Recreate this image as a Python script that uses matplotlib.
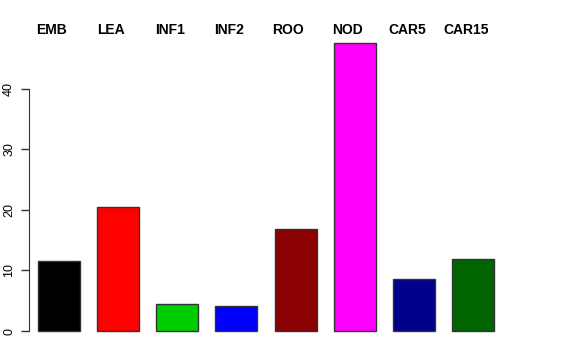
import matplotlib
matplotlib.use("Agg")
import matplotlib.pyplot as plt

categories = ["EMB", "LEA", "INF1", "INF2", "ROO", "NOD", "CAR5", "CAR15"]
values = [11.6, 20.5, 4.5, 4.1, 16.9, 47.6, 8.6, 11.9]
colors = ["#000000", "#FF0000", "#00CD00", "#0000FF", "#8B0000", "#FF00FF", "#00008B", "#006400"]
yticks = [0, 10, 20, 30, 40]

plt.rcParams['font.family'] = ['Liberation Sans', 'DejaVu Sans']

W, H = 576, 360
fig = plt.figure(figsize=(W/100, H/100), dpi=100)
left, right, top, bottom = 29, 503, 31.5, 342.5
ax = fig.add_axes([left/W, 1-bottom/H, (right-left)/W, (bottom-top)/H])

x = list(range(len(categories)))
ax.bar(x, values, width=0.71, color=colors, edgecolor="#333333", linewidth=1.0)
ax.set_xlim(-0.507, 7.507)
ax.set_ylim(-1.9, 49.5)

for s in ["top", "right", "bottom"]:
    ax.spines[s].set_visible(False)
ax.spines["left"].set_bounds(0, 40)
ax.spines["left"].set_color("#333333")
ax.set_xticks([])
ax.set_yticks(yticks)
ax.set_yticklabels([str(t) for t in yticks], rotation=90, va="center", fontsize=9)
ax.tick_params(axis="y", length=6, width=1, pad=4, color="#333333")

for xi, lab in zip(x, categories):
    ax.text(xi - 0.12, 1 - 34/H, lab, transform=ax.get_xaxis_transform() if False else
            matplotlib.transforms.blended_transform_factory(ax.transData, fig.transFigure),
            ha="center", va="baseline", fontsize=10, fontweight="bold", clip_on=False)

fig.savefig("out.png", dpi=100)
